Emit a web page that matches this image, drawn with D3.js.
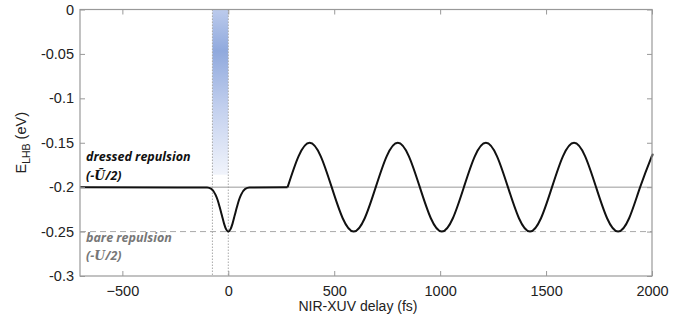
<!DOCTYPE html>
<html>
<head>
<meta charset="utf-8">
<script src="https://cdn.jsdelivr.net/npm/d3@7"></script>
<style>
  body { margin: 0; background: #fff; }
  svg { display: block; font-family: "Liberation Sans", Arial, sans-serif; }
</style>
</head>
<body>
<svg id="chart" width="695" height="325"></svg>
<script>
// values
const delays = [-700, -100, -80, -60, -50, -40, -30, -20, -10, 0, 10, 20, 30, 40, 50, 60, 80, 100, 280];
const energies = [-0.2, -0.2004, -0.202, -0.2086, -0.2147, -0.223, -0.232, -0.241, -0.2475, -0.25,
  -0.2475, -0.241, -0.232, -0.223, -0.2147, -0.2086, -0.202, -0.2004, -0.2];

const oscDelays = [280, 332, 384, 436, 488, 540, 592, 644, 696, 748, 800, 852, 904, 956, 1008, 1060,
  1112, 1164, 1216, 1268, 1320, 1372, 1424, 1476, 1528, 1580, 1632, 1684, 1736, 1788, 1840, 1892, 1944, 1996, 2000];
const oscEnergies = [-0.2, -0.165, -0.15, -0.165, -0.2, -0.235, -0.25, -0.235, -0.2, -0.165, -0.15, -0.165,
  -0.2, -0.235, -0.25, -0.235, -0.2, -0.165, -0.15, -0.165, -0.2, -0.235, -0.25, -0.235, -0.2, -0.165,
  -0.15, -0.165, -0.2, -0.235, -0.25, -0.235, -0.2, -0.167, -0.1655];

const dressedLevel = -0.2;
const bareLevel = -0.25;
const pulseWindow = [-75, 0];
const pulseTop = 0, pulseBottom = -0.186;

const xTicks = [-500, 0, 500, 1000, 1500, 2000];
const yTicks = [0, -0.05, -0.1, -0.15, -0.2, -0.25, -0.3];

const margin = { top: 9.5, right: 43, bottom: 49, left: 80 };
const W = 695, H = 325;
const width = W - margin.left - margin.right;
const height = H - margin.top - margin.bottom;

const svg = d3.select('#chart');
const g = svg.append('g').attr('transform', 'translate(' + margin.left + ',' + margin.top + ')');

const x = d3.scaleLinear().domain([-700, 2000]).range([0, width]);
const y = d3.scaleLinear().domain([-0.3, 0]).range([height, 0]);

// blue pulse band
const defs = svg.append('defs');
const grad = defs.append('linearGradient').attr('id', 'pulse')
  .attr('x1', 0).attr('y1', 0).attr('x2', 0).attr('y2', 1);
grad.append('stop').attr('offset', '0%').attr('stop-color', '#bccbec');
grad.append('stop').attr('offset', '25%').attr('stop-color', '#90a9dd');
grad.append('stop').attr('offset', '60%').attr('stop-color', '#c3d0ee');
grad.append('stop').attr('offset', '100%').attr('stop-color', '#f1f4fb');

g.append('rect')
  .attr('x', x(pulseWindow[0]))
  .attr('width', x(pulseWindow[1]) - x(pulseWindow[0]))
  .attr('y', y(pulseTop))
  .attr('height', y(pulseBottom) - y(pulseTop))
  .attr('fill', 'url(#pulse)');

// vertical dotted markers
g.selectAll('.vmark')
  .data(pulseWindow)
  .enter().append('line')
  .attr('x1', d => x(d)).attr('x2', d => x(d))
  .attr('y1', 0).attr('y2', height)
  .attr('stroke', '#aaa')
  .attr('stroke-width', 1)
  .attr('stroke-dasharray', '1.5,1.5');

// reference levels
g.append('line')
  .attr('x1', 0).attr('x2', width)
  .attr('y1', y(dressedLevel)).attr('y2', y(dressedLevel))
  .attr('stroke', '#999').attr('stroke-width', 1);

g.append('line')
  .attr('x1', 0).attr('x2', width)
  .attr('y1', y(bareLevel)).attr('y2', y(bareLevel))
  .attr('stroke', '#aaa').attr('stroke-width', 1)
  .attr('stroke-dasharray', '6,4');

// curve
const line = d3.line()
  .x(d => x(d[0]))
  .y(d => y(d[1]));

g.append('path')
  .datum(d3.zip(delays, energies))
  .attr('d', line.curve(d3.curveMonotoneX))
  .attr('fill', 'none')
  .attr('stroke', '#111')
  .attr('stroke-width', 2);

g.append('path')
  .datum(d3.zip(oscDelays, oscEnergies))
  .attr('d', line.curve(d3.curveNatural))
  .attr('fill', 'none')
  .attr('stroke', '#111')
  .attr('stroke-width', 2);

// axes box, ticks inward on all sides
const axisColor = '#999';
function styleAxis(sel) {
  sel.select('.domain').remove();
  sel.selectAll('line').attr('stroke', axisColor);
  sel.selectAll('text')
    .attr('fill', '#222')
    .style('font-size', '14.5px')
    .style('font-family', '"Liberation Sans", Arial, sans-serif');
}

g.append('g')
  .attr('transform', 'translate(0,' + height + ')')
  .call(d3.axisBottom(x).tickValues(xTicks).tickSize(-5).tickPadding(10).tickFormat(d3.format('d')))
  .call(styleAxis);

g.append('g')
  .call(d3.axisTop(x).tickValues(xTicks).tickSize(-5).tickFormat(''))
  .call(styleAxis);

g.append('g')
  .call(d3.axisLeft(y).tickValues(yTicks).tickSize(-5).tickPadding(6).tickFormat(d => d === 0 ? '0' : String(d)))
  .call(styleAxis);

g.append('g')
  .attr('transform', 'translate(' + width + ',0)')
  .call(d3.axisRight(y).tickValues(yTicks).tickSize(-5).tickFormat(''))
  .call(styleAxis);

g.append('rect')
  .attr('width', width).attr('height', height)
  .attr('fill', 'none')
  .attr('stroke', axisColor)
  .attr('stroke-width', 1.2);

// annotations
const note = g.append('g')
  .style('font-family', '"Open Sans", "Noto Sans", sans-serif')
  .style('font-style', 'italic')
  .style('font-weight', 'bold')
  .style('font-size', '12.5px');

note.append('text').attr('x', 6).attr('y', y(-0.1705)).attr('fill', '#111').text('dressed repulsion');
const dressedSym = note.append('text').attr('x', 6).attr('y', y(-0.1915)).attr('fill', '#111');
dressedSym.append('tspan').text('(-');
dressedSym.append('tspan').style('font-family', '"DejaVu Serif", serif').text('Ũ');
dressedSym.append('tspan').text('/2)');

note.append('text').attr('x', 6).attr('y', y(-0.2615)).attr('fill', '#777').text('bare repulsion');
const bareSym = note.append('text').attr('x', 6).attr('y', y(-0.282)).attr('fill', '#777');
bareSym.append('tspan').text('(-');
bareSym.append('tspan').style('font-family', '"DejaVu Serif", serif').text('U');
bareSym.append('tspan').text('/2)');

// axis labels
svg.append('text')
  .attr('x', 358).attr('y', 311)
  .attr('text-anchor', 'middle')
  .style('font-size', '14px')
  .attr('fill', '#222')
  .text('NIR-XUV delay (fs)');

const yl = svg.append('text')
  .attr('transform', 'translate(26,' + (margin.top + height / 2) + ') rotate(-90)')
  .attr('text-anchor', 'middle')
  .style('font-size', '14.5px')
  .attr('fill', '#222');
yl.append('tspan').text('E');
yl.append('tspan').attr('dy', 4).style('font-size', '10.5px').text('LHB');
yl.append('tspan').attr('dy', -4).text(' (eV)');
</script>
</body>
</html>
